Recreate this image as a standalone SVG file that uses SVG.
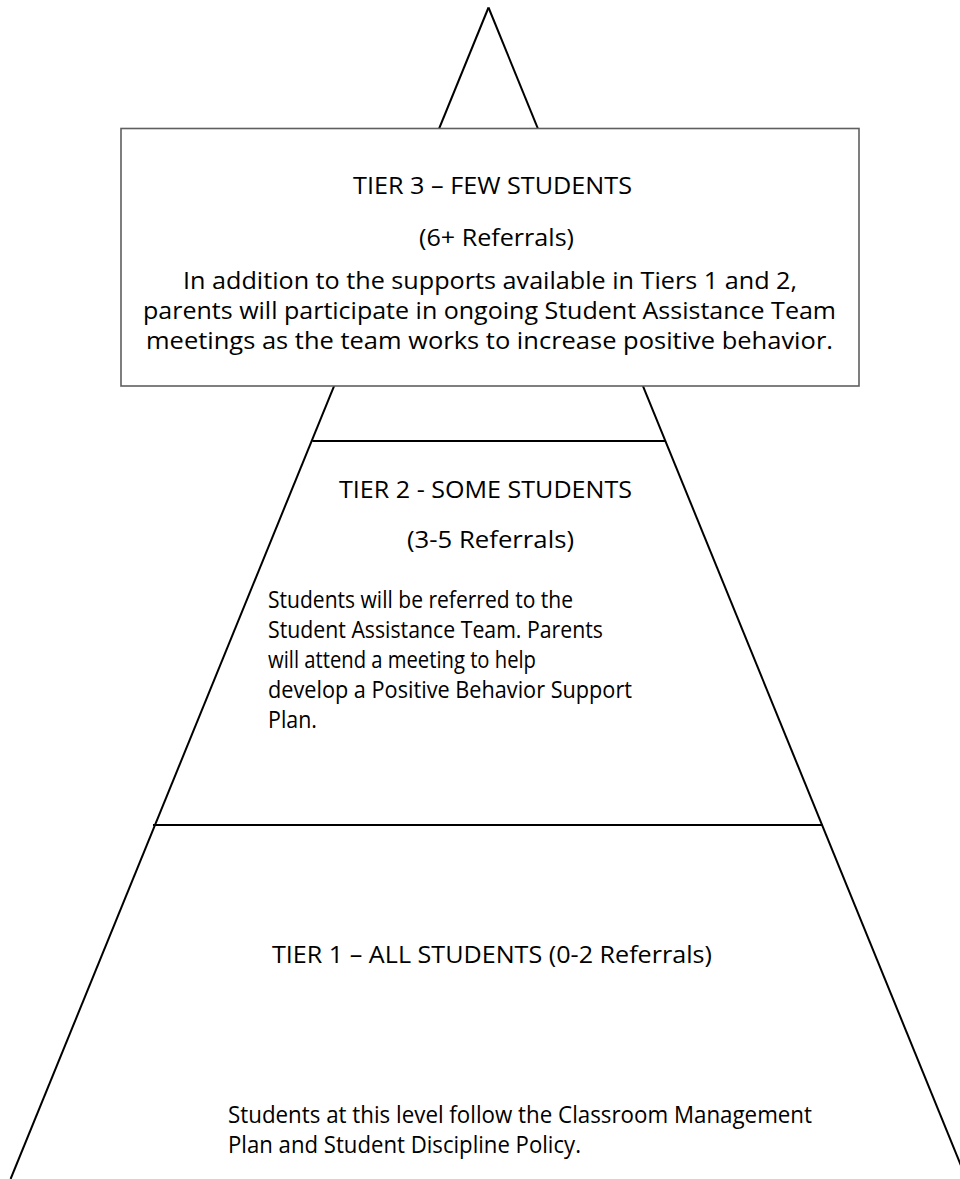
<svg xmlns="http://www.w3.org/2000/svg" width="960" height="1179" viewBox="0 0 960 1179">
<style>
.edge{stroke:#000;stroke-width:2;fill:none;stroke-linecap:butt}
.divider{stroke:#000;stroke-width:2;fill:none}
.box{fill:#fff;stroke:#5f5f5f;stroke-width:1.6}
.t{font-family:"Open Sans","Liberation Sans",sans-serif;font-size:23px;fill:#000}
</style>
<rect width="960" height="1179" fill="#fff"/>
<g id="connectors">
<line class="edge" x1="488.5" y1="7.5" x2="10.6" y2="1179"/>
<line class="edge" x1="488.5" y1="7.5" x2="966.5" y2="1179"/>
<line class="divider" x1="312.3" y1="441" x2="665" y2="441"/>
<line class="divider" x1="153" y1="825" x2="822.5" y2="825"/>
</g>
<g id="tier3">
<rect class="box" x="121" y="128.5" width="738" height="257.5"/>
<text class="t" x="353" y="194" textLength="279" lengthAdjust="spacingAndGlyphs">TIER 3 – FEW STUDENTS</text>
<text class="t" x="419" y="246" textLength="155" lengthAdjust="spacingAndGlyphs">(6+ Referrals)</text>
<text class="t" x="183" y="289" textLength="614" lengthAdjust="spacingAndGlyphs">In addition to the supports available in Tiers 1 and 2,</text>
<text class="t" x="143" y="319" textLength="693" lengthAdjust="spacingAndGlyphs">parents will participate in ongoing Student Assistance Team</text>
<text class="t" x="146" y="349" textLength="687" lengthAdjust="spacingAndGlyphs">meetings as the team works to increase positive behavior.</text>
</g>
<g id="tier2">
<text class="t" x="339" y="498" textLength="293" lengthAdjust="spacingAndGlyphs">TIER 2 - SOME STUDENTS</text>
<text class="t" x="407" y="548" textLength="167" lengthAdjust="spacingAndGlyphs">(3-5 Referrals)</text>
<text class="t" x="268" y="608" textLength="305" lengthAdjust="spacingAndGlyphs">Students will be referred to the</text>
<text class="t" x="268" y="638" textLength="335" lengthAdjust="spacingAndGlyphs">Student Assistance Team. Parents</text>
<text class="t" x="268" y="668" textLength="268" lengthAdjust="spacingAndGlyphs">will attend a meeting to help</text>
<text class="t" x="268" y="698" textLength="364" lengthAdjust="spacingAndGlyphs">develop a Positive Behavior Support</text>
<text class="t" x="268" y="728" textLength="49" lengthAdjust="spacingAndGlyphs">Plan.</text>
</g>
<g id="tier1">
<text class="t" x="272" y="963" textLength="440" lengthAdjust="spacingAndGlyphs">TIER 1 – ALL STUDENTS (0-2 Referrals)</text>
<text class="t" x="228" y="1123" textLength="584" lengthAdjust="spacingAndGlyphs">Students at this level follow the Classroom Management</text>
<text class="t" x="228" y="1153" textLength="353" lengthAdjust="spacingAndGlyphs">Plan and Student Discipline Policy.</text>
</g>
</svg>
